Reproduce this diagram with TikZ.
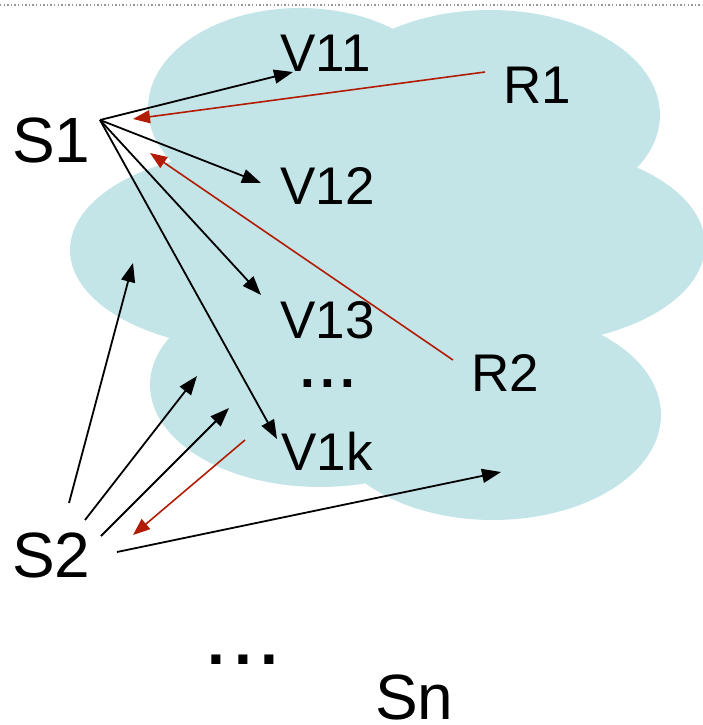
\documentclass[tikz,border=0pt]{standalone}
\usepackage{fontspec}
\setmainfont{Liberation Sans}
\usetikzlibrary{arrows.meta}
\definecolor{cloudfill}{RGB}{196,229,232}
\definecolor{backred}{RGB}{178,28,4}
\definecolor{rulegray}{RGB}{150,150,150}
\tikzset{
  biglabel/.style={inner sep=0pt, anchor=base west, font=\fontsize{64}{64}\selectfont},
  vlabel/.style={inner sep=0pt, anchor=base west, font=\fontsize{53}{53}\selectfont},
  fwd/.style={draw=black, line width=1.8pt, -{Triangle[length=19pt,width=14pt]}},
  back/.style={draw=backred, line width=1.6pt, -{Triangle[length=17pt,width=13pt]}},
  lobe/.style={fill=cloudfill, draw=none}
}
\begin{document}
\begin{tikzpicture}[x=1pt,y=-1pt]
\useasboundingbox (0,0) rectangle (702,725);

% dotted rule along the top edge
\draw[rulegray, line width=1.4pt, dash pattern=on 1.4pt off 2.2pt] (0,5) -- (702,5);

% the cloud, built from overlapping lobes
\fill[lobe] (300,108) ellipse [x radius=152pt, y radius=100pt];
\fill[lobe] (490,115) ellipse [x radius=170pt, y radius=105pt];
\fill[lobe] (520,245) ellipse [x radius=185pt, y radius=100pt];
\fill[lobe] (493,415) ellipse [x radius=168pt, y radius=105pt];
\fill[lobe] (320,385) ellipse [x radius=170pt, y radius=102pt];
\fill[lobe] (260,250) ellipse [x radius=190pt, y radius=100pt];

% labels
\node[biglabel] (s1) at (12,162) {S1};
\node[biglabel] (s2) at (12,577) {S2};
\node[biglabel] (sn) at (375,719) {Sn};
\node[vlabel] (v11) at (280,71) {V11};
\node[vlabel] (v12) at (280,204) {V12};
\node[vlabel] (v13) at (280,338) {V13};
\node[vlabel] (v1k) at (281,470) {V1k};
\node[vlabel] (r1) at (503,103) {R1};
\node[vlabel] (r2) at (471,391) {R2};
\node[inner sep=0pt, font=\fontsize{53}{53}\selectfont\bfseries] (dots1) at (328,384) {.\kern5pt.\kern5pt.};
\node[inner sep=0pt, font=\fontsize{64}{64}\selectfont\bfseries] (dots2) at (243,660) {.\kern9pt.\kern9pt.};

% connector ends
\coordinate (s1o) at (100,120);
\coordinate (t11) at (293,72);
\coordinate (t12) at (261,183);
\coordinate (t13) at (261,295);
\coordinate (t1k) at (277,439);
\coordinate (r1o) at (485,72);
\coordinate (r1t) at (133,119);
\coordinate (r2o) at (453,360);
\coordinate (r2t) at (150,153);
\coordinate (vko) at (245,440);
\coordinate (vkt) at (133,535);
\coordinate (s2a) at (69,503);
\coordinate (s2b) at (85,520);
\coordinate (s2c) at (101,536);
\coordinate (s2d) at (117,552);
\coordinate (ta) at (133,263);
\coordinate (tb) at (197,376);
\coordinate (tc) at (229,408);
\coordinate (td) at (501,472);

% S1 to its V nodes
\draw[fwd] (s1o) -- (t11);
\draw[fwd] (s1o) -- (t12);
\draw[fwd] (s1o) -- (t13);
\draw[fwd] (s1o) -- (t1k);

% replies back
\draw[back] (r1o) -- (r1t);
\draw[back] (r2o) -- (r2t);
\draw[back] (vko) -- (vkt);

% S2 into the cloud
\draw[fwd] (s2a) -- (ta);
\draw[fwd] (s2b) -- (tb);
\draw[fwd] (s2c) -- (tc);
\draw[fwd] (s2d) -- (td);
\end{tikzpicture}
\end{document}
